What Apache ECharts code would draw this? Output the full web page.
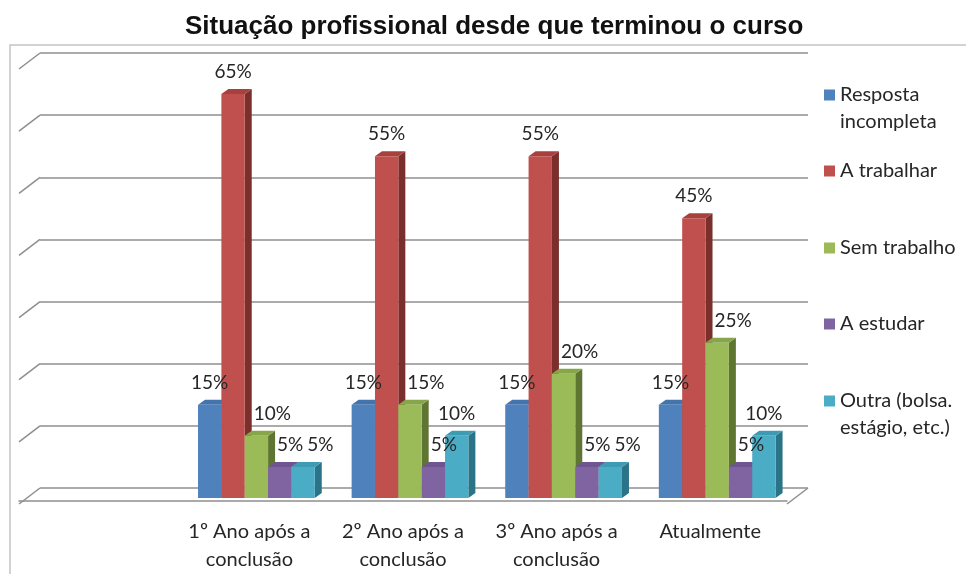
<!DOCTYPE html>
<html>
<head>
<meta charset="utf-8">
<script src="https://cdn.jsdelivr.net/npm/echarts@6/dist/echarts.min.js"></script>
<style>
  html, body { margin: 0; padding: 0; background: #fff; }
  #chart { width: 966px; height: 574px; }
</style>
</head>
<body>
<div id="chart"></div>
<script>
// data
const categories = ["", "1º Ano após a\nconclusão", "2º Ano após a\nconclusão", "3º Ano após a\nconclusão", "Atualmente"];
const seriesNames = ["Resposta\nincompleta", "A trabalhar", "Sem trabalho", "A estudar", "Outra (bolsa.\nestágio, etc.)"];
const respostaIncompleta = [15, 15, 15, 15];
const aTrabalhar = [65, 55, 55, 45];
const semTrabalho = [10, 15, 20, 25];
const aEstudar = [5, 5, 5, 5];
const outra = [5, 10, 5, 10];
const yTicks = [0, 10, 20, 30, 40, 50, 60, 70];

const seriesValues = [respostaIncompleta, aTrabalhar, semTrabalho, aEstudar, outra];

// look
const frontColors = ["#4F81BD", "#C0504D", "#9BBB59", "#8064A2", "#4BACC6"];
const topColors = ["#4474AD", "#A8413E", "#87A64A", "#6E5590", "#3E9BB4"];
const sideColors = ["#2E5079", "#7B2F2D", "#5F7632", "#4C3A63", "#2B7387"];
const gridColor = "#8f8f8f";
const textColor = "#262626";
const labelFont = "19px Lato";

// 3d geometry (pixels)
const BACK = { left: 40, right: 158, top: 53, bottom: 86 };
const WALL = [-21, 16]; // back wall -> front edge of the floor
const SHIFT = [-14, 10]; // back wall -> bar front face
const DEPTH = [7, -5]; // bar front face -> bar back face
const BAR_FRAC = 0.152;

const measureCtx = document.createElement("canvas").getContext("2d");
measureCtx.font = labelFont;

function labelLeft(api, cat, dataIndex, seriesIndex) {
  // walk the bars of this category from left, nudging labels off taller bars and earlier labels
  const catW = api.size([1, 0])[0];
  const w = catW * BAR_FRAC;
  const start = api.coord([cat, 0])[0] + SHIFT[0] - 2.5 * w;
  let prevRight = -Infinity;
  let prevY = null;
  let left = 0;
  for (let s = 0; s <= seriesIndex; s++) {
    const v = seriesValues[s][dataIndex];
    const tw = measureCtx.measureText(v + "%").width;
    const x0 = start + s * w;
    const y = api.coord([cat, v])[1];
    left = x0 + w / 2 - tw / 2;
    if (s > 0 && seriesValues[s - 1][dataIndex] > v) {
      left = Math.max(left, x0 + DEPTH[0] + 2);
    }
    if (prevY !== null && Math.abs(prevY - y) < 18) {
      left = Math.max(left, prevRight + 4);
    }
    prevRight = left + tw;
    prevY = y;
  }
  return left;
}

function renderBar(seriesIndex) {
  return function (params, api) {
    const cat = api.value(0);
    const val = api.value(1);
    const catW = api.size([1, 0])[0];
    const w = catW * BAR_FRAC;
    const base = api.coord([cat, 0]);
    const peak = api.coord([cat, val]);
    const x0 = base[0] + SHIFT[0] - 2.5 * w + seriesIndex * w;
    const x1 = x0 + w;
    const yb = base[1] + SHIFT[1];
    const yt = peak[1] + SHIFT[1];
    const dx = DEPTH[0];
    const dy = DEPTH[1];
    return {
      type: "group",
      children: [
        {
          type: "polygon",
          z2: seriesIndex,
          shape: { points: [[x1, yt], [x1 + dx, yt + dy], [x1 + dx, yb + dy], [x1, yb]] },
          style: { fill: sideColors[seriesIndex] },
        },
        {
          type: "polygon",
          z2: seriesIndex,
          shape: { points: [[x0, yt], [x0 + dx, yt + dy], [x1 + dx, yt + dy], [x1, yt]] },
          style: { fill: topColors[seriesIndex] },
        },
        {
          type: "rect",
          z2: seriesIndex,
          shape: { x: x0, y: yt, width: w, height: yb - yt },
          style: { fill: frontColors[seriesIndex] },
        },
        {
          type: "text",
          z2: 100,
          style: {
            text: val + "%",
            x: labelLeft(api, cat, params.dataIndex, seriesIndex),
            y: yt - 22,
            align: "left",
            verticalAlign: "middle",
            font: labelFont,
            fill: textColor,
          },
        },
      ],
    };
  };
}

const chartDom = document.getElementById("chart");
const myChart = echarts.init(chartDom, null, { renderer: "canvas" });

// two-line legend names get an empty first line so the marker sits on the first text line
const legendTops = [54.5, 157.5, 234.5, 310.5, 360.5];

const option = {
  animation: false,
  title: {
    text: "Situação profissional desde que terminou o curso",
    left: 180,
    top: 9,
    textStyle: {
      fontFamily: "Liberation Sans",
      fontWeight: "bold",
      fontSize: 26,
      color: "#111",
    },
  },
  legend: seriesNames.map((name, i) => ({
    data: [name],
    orient: "vertical",
    left: 824,
    top: legendTops[i],
    padding: 0,
    itemWidth: 11,
    itemHeight: 11,
    icon: "rect",
    selectedMode: false,
    formatter: (n) => (n.includes("\n") ? "\n" + n : n),
    textStyle: {
      fontFamily: "Lato",
      fontSize: 20,
      color: textColor,
      lineHeight: 27,
    },
  })),
  grid: [
    { left: BACK.left, right: BACK.right, top: BACK.top, bottom: BACK.bottom },
    {
      left: BACK.left + WALL[0],
      right: BACK.right - WALL[0],
      top: BACK.top + WALL[1],
      bottom: BACK.bottom - WALL[1],
    },
  ],
  xAxis: [
    {
      type: "category",
      gridIndex: 0,
      data: categories,
      axisLine: { show: false },
      axisTick: { show: false },
      axisLabel: { show: false },
    },
    {
      type: "category",
      gridIndex: 1,
      data: categories,
      axisLine: { lineStyle: { color: gridColor, width: 1.5 } },
      axisTick: { length: 7, interval: 0, lineStyle: { color: gridColor, width: 1.5 } },
      axisLabel: {
        interval: 0,
        hideOverlap: false,
        margin: 17,
        fontFamily: "Lato",
        fontSize: 20,
        lineHeight: 28,
        color: textColor,
      },
    },
  ],
  yAxis: [
    {
      type: "value",
      gridIndex: 0,
      min: yTicks[0],
      max: yTicks[yTicks.length - 1],
      interval: 10,
      axisLine: { show: false },
      axisTick: { show: false },
      axisLabel: { show: false },
      splitLine: { lineStyle: { color: gridColor, width: 1.5 } },
    },
    {
      type: "value",
      gridIndex: 1,
      min: yTicks[0],
      max: yTicks[yTicks.length - 1],
      show: false,
    },
  ],
  series: seriesNames.map((name, s) => ({
    name: name,
    type: "custom",
    xAxisIndex: 0,
    yAxisIndex: 0,
    itemStyle: { color: frontColors[s] },
    renderItem: renderBar(s),
    encode: { x: 0, y: 1 },
    data: seriesValues[s].map((v, i) => [i + 1, v]),
  })),
};

myChart.setOption(option);

// chart frame, left wall edges and right floor edge
const wallLines = yTicks.map((v) => {
  const y = myChart.convertToPixel({ yAxisIndex: 0 }, v);
  return {
    type: "line",
    shape: { x1: BACK.left, y1: y, x2: BACK.left + WALL[0], y2: y + WALL[1] },
    style: { stroke: gridColor, lineWidth: 1.5 },
  };
});
const floorY = myChart.convertToPixel({ yAxisIndex: 0 }, 0);
const rightX = 966 - BACK.right;

myChart.setOption({
  graphic: [
    {
      type: "polyline",
      shape: { points: [[10, 574], [10, 45], [966, 45]] },
      style: { stroke: "#c4c4c4", lineWidth: 1.5, fill: null },
    },
    ...wallLines,
    {
      type: "line",
      shape: { x1: rightX, y1: floorY, x2: rightX + WALL[0], y2: floorY + WALL[1] },
      style: { stroke: gridColor, lineWidth: 1.5 },
    },
  ],
});
</script>
</body>
</html>
